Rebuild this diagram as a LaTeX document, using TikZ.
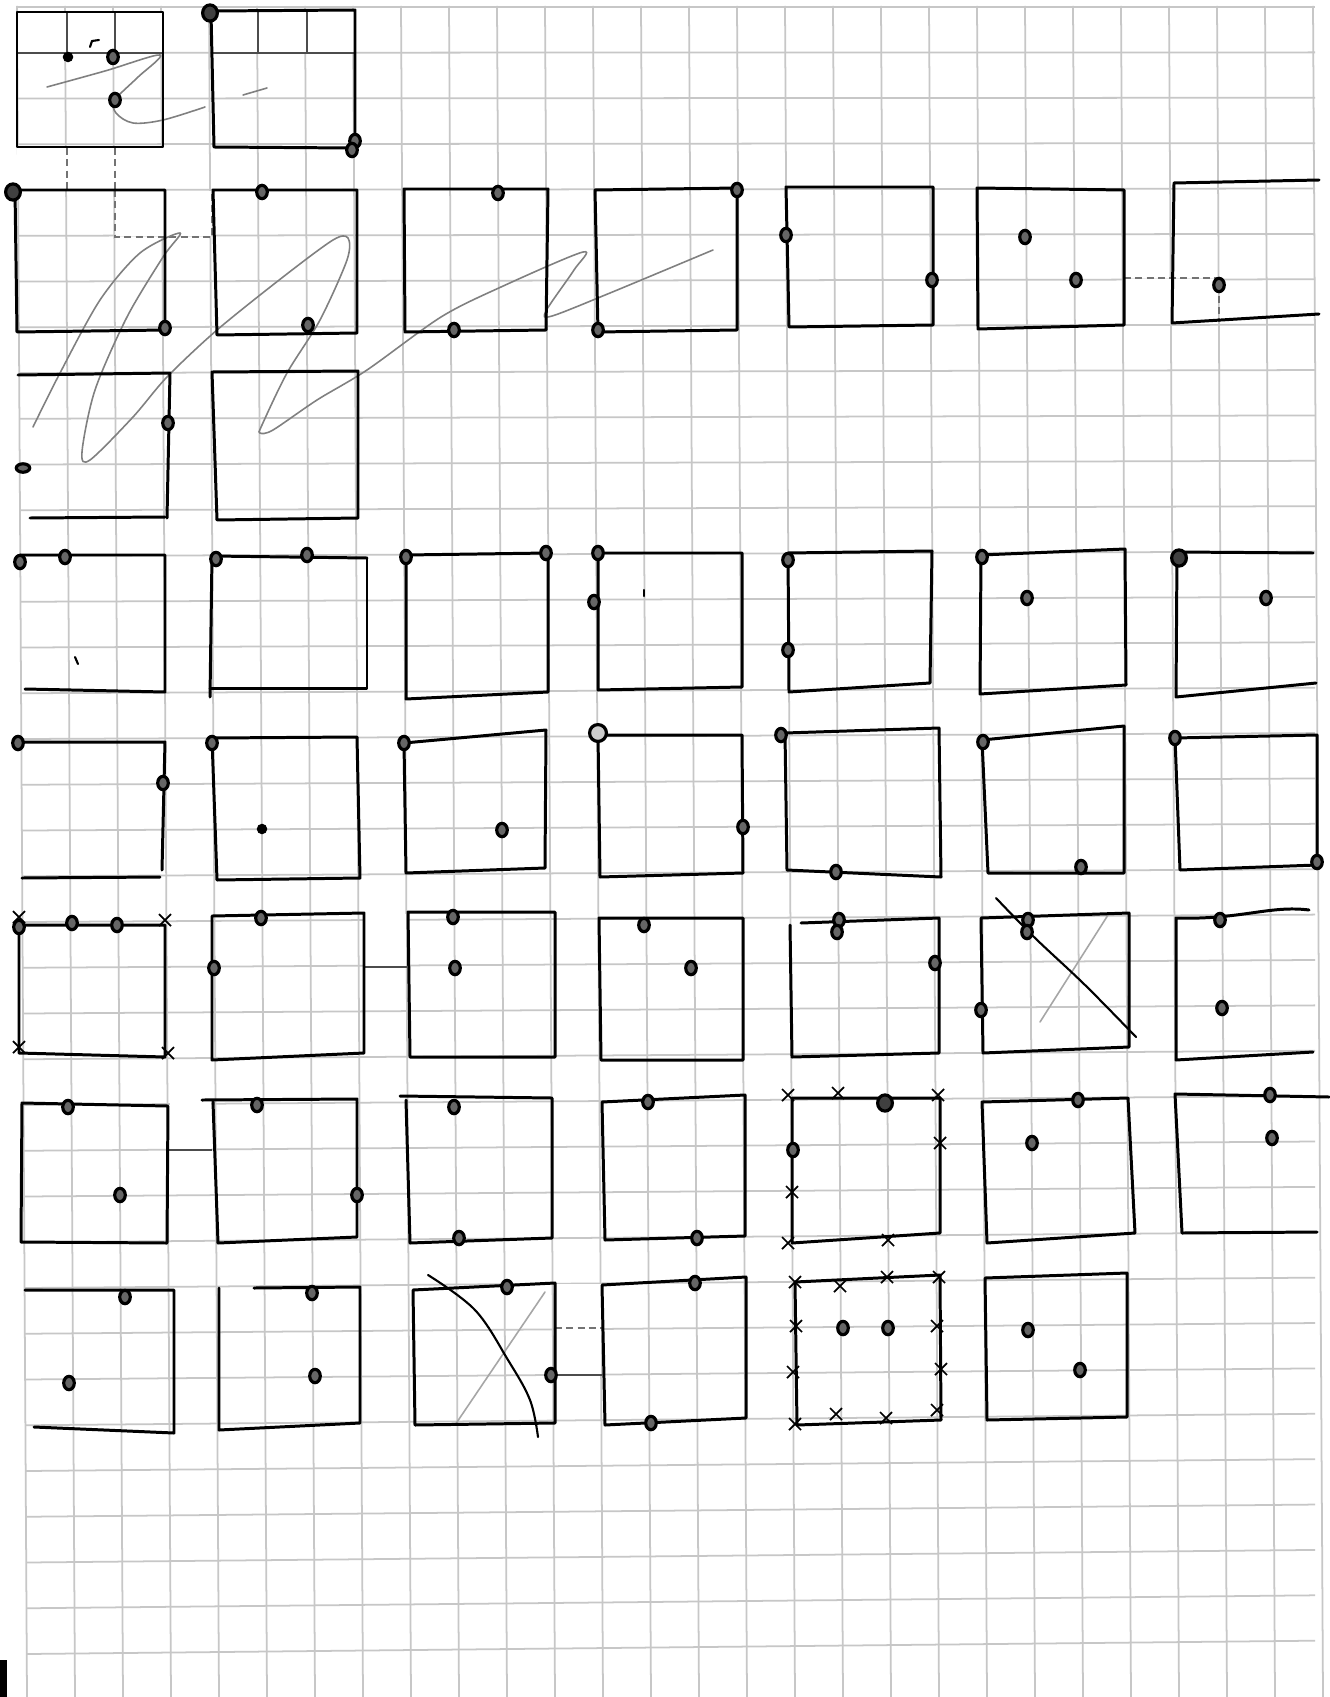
\documentclass[tikz,border=0pt]{standalone}
\begin{document}
\begin{tikzpicture}[x=0.01cm,y=-0.01cm,
  gridl/.style={draw=black!22,line width=0.5pt},
  box/.style={draw=black,line width=0.85pt,line join=round,line cap=round},
  pen/.style={draw=black!50,line width=0.45pt,line cap=round},
  dk/.style={draw=black,line width=0.9pt,fill=black!60},
  xm/.style={draw=black,line width=0.5pt},
  thinl/.style={draw=black!70,line width=0.35pt},
  dashl/.style={draw=black!55,line width=0.35pt,dash pattern=on 2pt off 1.2pt}]
\useasboundingbox (0,0) rectangle (1329,1697);
\fill[white] (0,0) rectangle (1329,1697);
% graph paper
\foreach \k in {0,...,27} \draw[gridl] ({17+48*\k},6) -- ({27+48*\k},1697);
\foreach \k in {0,...,36} \draw[gridl] ({17+0.006*(7+45.75*\k)},{7+45.75*\k}) -- (1315,{7+45.75*\k-0.37*\k});
\fill[black] (0,1660) rectangle (7,1697);
% white-out patches
\fill[white] (18,13) rectangle (162,52);
\draw[thinl] (67,12) -- (67,53) (115,12) -- (115,53) (17,53) -- (163,53);
\fill[white] (213,11) rectangle (354,52);
\draw[thinl] (258,10) -- (258,53) (307,10) -- (307,53) (212,53) -- (355,53);
\fill[white] (17,148) rectangle (163,189);
\draw[dashl] (67,148) -- (67,190) (115,148) -- (115,190);
\fill[white] (116,191) rectangle (211,236);
\draw[dashl] (115,190) -- (115,237) -- (212,237) -- (212,190);
\fill[white] (1125,279) rectangle (1218,324);
\draw[dashl] (1124,278) -- (1219,278) -- (1219,322);
\fill[white] (365,914) rectangle (406,966);
\draw[thinl] (364,967) -- (407,967);
\fill[white] (170,1096) rectangle (211,1149);
\draw[thinl] (169,1150) -- (212,1150);
\fill[white] (556,1284) rectangle (601,1374);
\draw[dashl] (555,1328) -- (602,1328);
\draw[thinl] (555,1375) -- (602,1375);
% pencil curves
\draw[pen] plot[smooth,tension=0.55] coordinates {(47,87) (105,71) (160,55) (137,78) (115,100) (116,113) (133,123) (163,120) (205,107)};
\draw[pen] (243,95) -- (267,88);
\draw[pen] plot[smooth,tension=0.5] coordinates {(33,427) (60,373) (100,300) (140,253) (180,233) (163,257) (127,317) (95,390) (82,452) (90,460) (133,417) (167,377) (217,330) (283,277) (333,240) (348,238) (347,260) (320,320) (287,373) (262,425) (260,433) (273,430) (317,400) (367,370) (441,317) (501,287) (583,252) (574,270) (546,311) (552,316) (610,293) (713,250)};
\draw[pen,draw=black!35] (1108,915) -- (1040,1022);
\draw[pen,draw=black!35] (455,1425) -- (545,1292);
% dark strokes
\draw[box,line width=0.6pt] plot[smooth,tension=0.6] coordinates {(996,898) (1034,937) (1085,985) (1136,1037)};
\draw[box,line width=0.6pt] plot[smooth,tension=0.6] coordinates {(428,1275) (475,1310) (508,1360) (530,1400) (538,1437)};
% ---- row 0
\draw[box] (17,12) -- (163,12) -- (163,147) -- (17,147) -- cycle;
\draw[box] (212,11) -- (355,10) -- (355,145);
\draw[box] (211,13) -- (214,147) -- (352,148);
% ---- row 1
\draw[box] (15,190) -- (165,190) -- (165,330) -- (17,332) -- cycle;
\draw[box] (213,190) -- (357,190) -- (357,333) -- (217,335) -- cycle;
\draw[box] (404,189) -- (548,189) -- (546,330) -- (405,332) -- cycle;
\draw[box] (595,190) -- (737,188) -- (737,330) -- (598,332) -- cycle;
\draw[box] (786,187) -- (933,187) -- (933,325) -- (789,327) -- cycle;
\draw[box] (977,188) -- (1124,190) -- (1124,325) -- (978,329) -- cycle;
\draw[box] (1319,180) -- (1174,183) -- (1172,323) -- (1319,314);
% ---- row 1b
\draw[box] (18,375) -- (170,373) -- (167,518);
\draw[box] (30,518) -- (165,517);
\draw[box] (212,372) -- (358,371) -- (358,518) -- (217,520) -- cycle;
% ---- row 2
\draw[box] (20,555) -- (165,555) -- (165,692) -- (25,689);
\draw[box] (367,558) -- (212,556) -- (210,697);
\draw[box] (210,688) -- (367,688) -- (367,558);
\draw[box] (406,555) -- (548,553) -- (548,692) -- (406,699) -- cycle;
\draw[box] (598,553) -- (742,553) -- (742,687) -- (598,690) -- cycle;
\draw[box] (788,553) -- (932,551) -- (930,683) -- (789,692) -- cycle;
\draw[box] (981,555) -- (1125,549) -- (1126,685) -- (980,694) -- cycle;
\draw[box] (1313,553) -- (1177,552) -- (1176,697) -- (1316,683);
% ---- row 3
\draw[box] (13,742) -- (165,742) -- (162,870);
\draw[box] (22,878) -- (160,877);
\draw[box] (212,738) -- (357,737) -- (360,878) -- (217,880) -- cycle;
\draw[box] (404,743) -- (546,730) -- (545,868) -- (406,873) -- cycle;
\draw[box] (598,735) -- (742,735) -- (743,873) -- (600,877) -- cycle;
\draw[box] (785,733) -- (939,728) -- (941,877) -- (787,870) -- cycle;
\draw[box] (982,740) -- (1124,726) -- (1124,873) -- (988,873) -- cycle;
\draw[box] (1175,738) -- (1317,735) -- (1317,865) -- (1180,870) -- cycle;
% ---- row 4
\draw[box] (19,925) -- (165,925) -- (165,1057) -- (19,1053) -- cycle;
\draw[box] (212,916) -- (364,913) -- (364,1053) -- (212,1060) -- cycle;
\draw[box] (408,912) -- (555,912) -- (555,1057) -- (410,1057) -- cycle;
\draw[box] (599,918) -- (743,918) -- (743,1060) -- (601,1060) -- cycle;
\draw[box] (801,923) -- (939,918) -- (939,1053) -- (792,1057) -- (790,925);
\draw[box] (981,918) -- (1129,913) -- (1129,1047) -- (983,1053) -- cycle;
\draw[box] (1309,910) .. controls (1270,905) and (1240,920) .. (1176,918) -- (1176,1060) -- (1313,1052);
% ---- row 5
\draw[box] (22,1103) -- (168,1106) -- (167,1243) -- (21,1242) -- cycle;
\draw[box] (202,1100) -- (357,1099) -- (357,1237) -- (218,1243) -- (213,1102);
\draw[box] (400,1096) -- (552,1098) -- (552,1238) -- (410,1243) -- (406,1100);
\draw[box] (602,1102) -- (745,1095) -- (745,1236) -- (605,1240) -- cycle;
\draw[box] (792,1098) -- (940,1098) -- (940,1233) -- (792,1243) -- cycle;
\draw[box] (982,1102) -- (1128,1098) -- (1135,1233) -- (987,1243) -- cycle;
\draw[box] (1329,1097) -- (1175,1094) -- (1182,1233) -- (1317,1232);
% ---- row 6
\draw[box] (25,1290) -- (174,1290) -- (174,1433) -- (34,1427);
\draw[box] (254,1288) -- (360,1287) -- (360,1423) -- (219,1430) -- (219,1288);
\draw[box] (413,1290) -- (555,1283) -- (555,1423) -- (415,1425) -- cycle;
\draw[box] (602,1285) -- (746,1277) -- (746,1418) -- (605,1425) -- cycle;
\draw[box] (795,1282) -- (940,1275) -- (941,1420) -- (797,1425) -- cycle;
\draw[box] (985,1278) -- (1127,1273) -- (1127,1417) -- (987,1420) -- cycle;
% ---- x marks
\foreach \x/\y in {19/917,165/920,19/1047,168/1053,
  788/1095,838/1093,938/1095,940/1143,792/1192,788/1243,888/1240,
  795/1282,840/1286,887/1277,939/1277,796/1326,793/1372,937/1326,941/1369,
  795/1424,836/1414,886/1418,937/1410}
  \draw[xm] (\x-6,\y-6) -- (\x+6,\y+6) (\x-6,\y+6) -- (\x+6,\y-6);
% ---- small solid dots and ticks
\foreach \x/\y in {68/57,262/829}
  \fill (\x,\y) circle[radius=1.5pt];
\fill[rotate=40] (1253,243) ellipse[x radius=1.6pt,y radius=2.3pt];
\draw[box,line width=0.6pt] (90,47) -- (92,41) -- (99,40);
\draw[box,line width=0.6pt] (75,657) -- (78,664);
\draw[box,line width=0.6pt] (644,590) -- (644,596);
% ---- ringed dots
\foreach \x/\y in {113/57,115/100,355/141,352/150,165/328,262/192,308/325,
  498/193,454/330,737/190,598/330,786/235,932/280,1025/237,1076/280,1219/285,
  168/423,20/562,65/557,216/559,307/555,406/557,546/553,598/553,594/602,
  788/560,788/650,982/557,1027/598,1266/598,
  18/743,163/783,212/743,404/743,502/830,743/827,781/735,836/872,983/742,1081/867,
  1175/738,1317/862,
  19/927,72/923,117/925,261/918,214/968,453/917,455/968,644/925,691/968,
  839/920,837/932,935/963,1028/920,1027/932,981/1010,1220/920,1222/1008,
  68/1107,120/1195,257/1105,357/1195,454/1107,459/1238,648/1102,697/1238,
  793/1150,1078/1100,1032/1143,1270/1095,1272/1138,
  125/1297,69/1383,312/1293,315/1376,507/1287,551/1375,695/1283,651/1423,
  843/1328,888/1328,1028/1330,1080/1370}
  \draw[dk] (\x,\y) ellipse[x radius=1.5pt,y radius=1.9pt];
% bigger dots
\foreach \x/\y in {210/13,13/192,1179/558,885/1103}
  \draw[dk,fill=black!75] (\x,\y) ellipse[x radius=2.1pt,y radius=2.3pt];
\draw[dk,fill=black!20] (598,733) circle[radius=2.4pt];
\draw[dk] (23,468) ellipse[x radius=1.9pt,y radius=1.2pt];
\end{tikzpicture}
\end{document}
